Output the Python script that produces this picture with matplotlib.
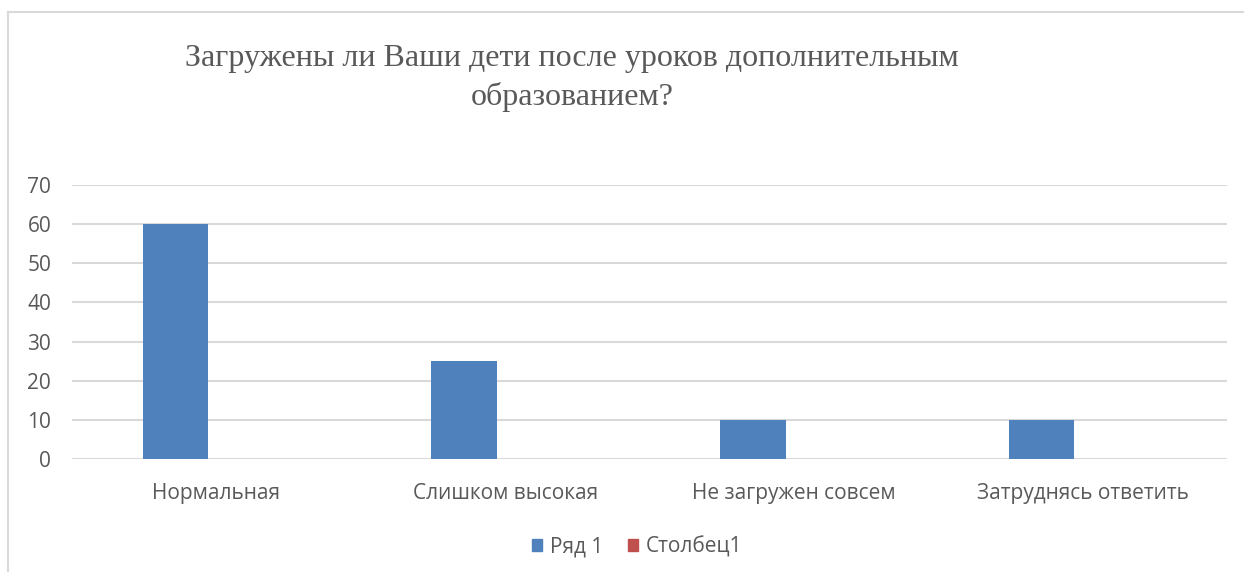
import matplotlib
matplotlib.use("Agg")
import matplotlib.pyplot as plt
from matplotlib.lines import Line2D
from matplotlib.patches import Rectangle
import numpy as np

categories = ["Нормальная", "Слишком высокая", "Не загружен совсем", "Затруднясь ответить"]
series1 = [60, 25, 10, 10]
series2 = [0, 0, 0, 0]
series_names = ["Ряд 1", "Столбец1"]
yticks = [0, 10, 20, 30, 40, 50, 60, 70]
title = "Загружены ли Ваши дети после уроков дополнительным\nобразованием?"

blue = "#4F81BD"
red = "#C0504D"
grey = "#595959"
grid = "#D9D9D9"
sans = ["Open Sans", "DejaVu Sans"]
fs = 15

fig = plt.figure(figsize=(12.44, 5.72), dpi=100)
W, H = 1244, 572
ax = fig.add_axes([72 / W, 1 - 459 / H, (1227 - 72) / W, (459 - 185) / H])

x = np.arange(len(categories))
bw = 0.227
ax.bar(x - 0.142, series1, width=bw, color=blue, label=series_names[0], zorder=3)
ax.bar(x + 0.085, series2, width=bw, color=red, label=series_names[1], zorder=3)

ax.set_xlim(-0.5, len(categories) - 0.5)
ax.set_ylim(0, 70)
ax.set_yticks(yticks)
ax.set_yticklabels([str(v) for v in yticks], family=sans, fontsize=fs, color=grey)
ax.set_xticks(x)
ax.set_xticklabels(categories, family=sans, fontsize=fs, color=grey)
ax.tick_params(axis="y", length=0, pad=15)
ax.tick_params(axis="x", length=0, pad=17)
for s in ax.spines.values():
    s.set_visible(False)
ax.yaxis.grid(True, color=grid, lw=1.5, zorder=0)
ax.set_axisbelow(True)

fig.text(572 / W, 1 - 78 / H, title, ha="center", va="center",
         family=["Liberation Serif", "DejaVu Serif"], fontsize=23, color=grey,
         linespacing=1.42)

handles = [Rectangle((0, 0), 1, 1, color=blue), Rectangle((0, 0), 1, 1, color=red)]
fig.legend(handles, series_names, loc="center", bbox_to_anchor=(637 / W, 1 - 547 / H),
           ncol=2, frameon=False, prop={"family": sans, "size": fs},
           labelcolor=grey, handlelength=0.5, handleheight=0.5, handletextpad=0.35,
           columnspacing=1.2)

fig.add_artist(Line2D([8 / W, 8 / W], [0, 1 - 12 / H], transform=fig.transFigure,
                      color=grid, lw=1.5))
fig.add_artist(Line2D([8 / W, 1], [1 - 12 / H, 1 - 12 / H], transform=fig.transFigure,
                      color=grid, lw=1.5))

fig.savefig("out.png", dpi=100, facecolor="white")
